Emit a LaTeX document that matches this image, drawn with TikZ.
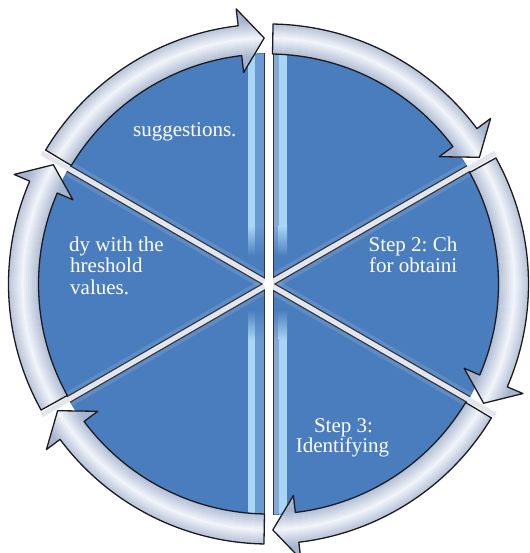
\documentclass[tikz,border=0pt]{standalone}
\usepackage{fontspec}
\setmainfont{Liberation Serif}
\usetikzlibrary{calc}
\frenchspacing

\definecolor{sectorblue}{HTML}{4A7DBE}
\definecolor{stripecyan}{HTML}{A8D6F4}
\definecolor{stripemid}{HTML}{6A9AD2}
\definecolor{stripegray}{HTML}{86A8D4}
\definecolor{gapdark}{HTML}{30343C}
\definecolor{gaplight}{HTML}{E2E6EC}
\definecolor{arrowlight}{HTML}{F1F4FA}
\definecolor{arrowdark}{HTML}{A7B4CE}
\definecolor{arrowedge}{HTML}{1C1C20}

% One curved arrow of the ring: #1 = divider angle at its tail,
% #2 = divider angle at its head (clockwise, 60 degrees further on).
\newcommand\ringarrow[2]{%
  \pgfmathsetmacro\tailang{#1-1}%
  \pgfmathsetmacro\tipang{#2+1}%
  \pgfmathsetmacro\backang{#2+6.7}%
  \def\arrowshape{(\tailang:260pt) arc[start angle=\tailang, end angle=\backang, radius=260pt]
    -- (\backang:277pt) -- (\tipang:246pt) -- (\backang:213pt) -- (\backang:230pt)
    arc[start angle=\backang, end angle=\tailang, radius=230pt] -- cycle}%
  \begin{scope}
    \clip \arrowshape;
    \foreach \r in {212,214,...,278}{%
      \pgfmathtruncatemacro\m{max(0,100-abs(\r-246)*5.5)}%
      \draw[color=arrowlight!\m!arrowdark, line width=2.3pt] (0,0) circle[radius=\r pt];
    }
  \end{scope}
  \draw[arrowline] \arrowshape;
}

\begin{document}
\begin{tikzpicture}[x=1pt, y=1pt,
  steptext/.style={text=white, font=\fontsize{21}{21}\selectfont, inner sep=0pt},
  arrowline/.style={draw=arrowedge, line width=1.3pt, line join=round}]
\useasboundingbox (0,0) rectangle (529,553);

\begin{scope}[shift={(268.5,269)}]
  % the disc of six sectors
  \fill[sectorblue] (0,0) circle[radius=231pt];

  % glossy stripes along the vertical gap
  \begin{scope}
    \clip (0,0) circle[radius=230pt];
    % upper half
    \fill[stripecyan] (-20.5,58) rectangle (-13.5,231);
    \fill[stripemid]  (-13.5,58) rectangle (-5,231);
    \fill[stripegray] (5,58) rectangle (10,231);
    \fill[stripecyan] (10,58) rectangle (18.5,231);
    \shade[top color=stripecyan, bottom color=sectorblue] (-20.5,28) rectangle (-13.5,58);
    \shade[top color=stripemid, bottom color=sectorblue] (-13.5,28) rectangle (-5,58);
    \shade[top color=stripegray, bottom color=sectorblue] (5,28) rectangle (10,58);
    \shade[top color=stripecyan, bottom color=sectorblue] (10,28) rectangle (18.5,58);
    % lower half
    \fill[stripecyan] (-20.5,-56) rectangle (-13.5,-231);
    \fill[stripemid]  (-13.5,-56) rectangle (-5,-231);
    \fill[stripegray] (5,-56) rectangle (10,-231);
    \fill[stripecyan] (10,-56) rectangle (18.5,-231);
    \shade[bottom color=stripecyan, top color=sectorblue] (-20.5,-26) rectangle (-13.5,-56);
    \shade[bottom color=stripemid, top color=sectorblue] (-13.5,-26) rectangle (-5,-56);
    \shade[bottom color=stripegray, top color=sectorblue] (5,-26) rectangle (10,-56);
    \shade[bottom color=stripecyan, top color=sectorblue] (10,-26) rectangle (18.5,-56);
    % soft haze beside the slanted gaps
    \draw[white, opacity=0.12, line width=15pt] (150:231pt) -- (-30:231pt);
    \draw[white, opacity=0.12, line width=15pt] (30:231pt) -- (210:231pt);
  \end{scope}

  % gaps between the sectors
  \draw[gapdark, line width=7.5pt] (150:231pt) -- (-30:231pt);
  \draw[gapdark, line width=7.5pt] (30:231pt) -- (210:231pt);
  \fill[gapdark] (-5,-231) rectangle (5,231);
  \draw[gaplight, line width=5pt] (150:262pt) -- (-30:262pt);
  \draw[gaplight, line width=5pt] (30:262pt) -- (210:262pt);
  \fill[white] (-4,-262) rectangle (4,262);
  \fill[white] (0,0) circle[radius=5pt];

  % the ring of arrows, clockwise
  \ringarrow{150}{90}
  \ringarrow{90}{30}
  \ringarrow{30}{-30}
  \ringarrow{-30}{-90}
  \ringarrow{-90}{-150}
  \ringarrow{210}{150}
\end{scope}

% sector texts
\node[steptext, anchor=base west] (s1) at (133,416.5) {suggestions.};
\node[steptext, anchor=base east] (s2a) at (457.5,301) {Step 2: Ch};
\node[steptext, anchor=base east] (s2b) at (457.5,280.5) {for obtaini};
\node[steptext, anchor=base] (s3a) at (343.5,120) {Step 3:};
\node[steptext, anchor=base] (s3b) at (342.5,100) {Identifying};
\node[steptext, anchor=base west] (s5a) at (69,301) {dy with the};
\node[steptext, anchor=base west] (s5b) at (70,280) {hreshold};
\node[steptext, anchor=base west] (s5c) at (70,258.5) {values.};
\end{tikzpicture}
\end{document}
